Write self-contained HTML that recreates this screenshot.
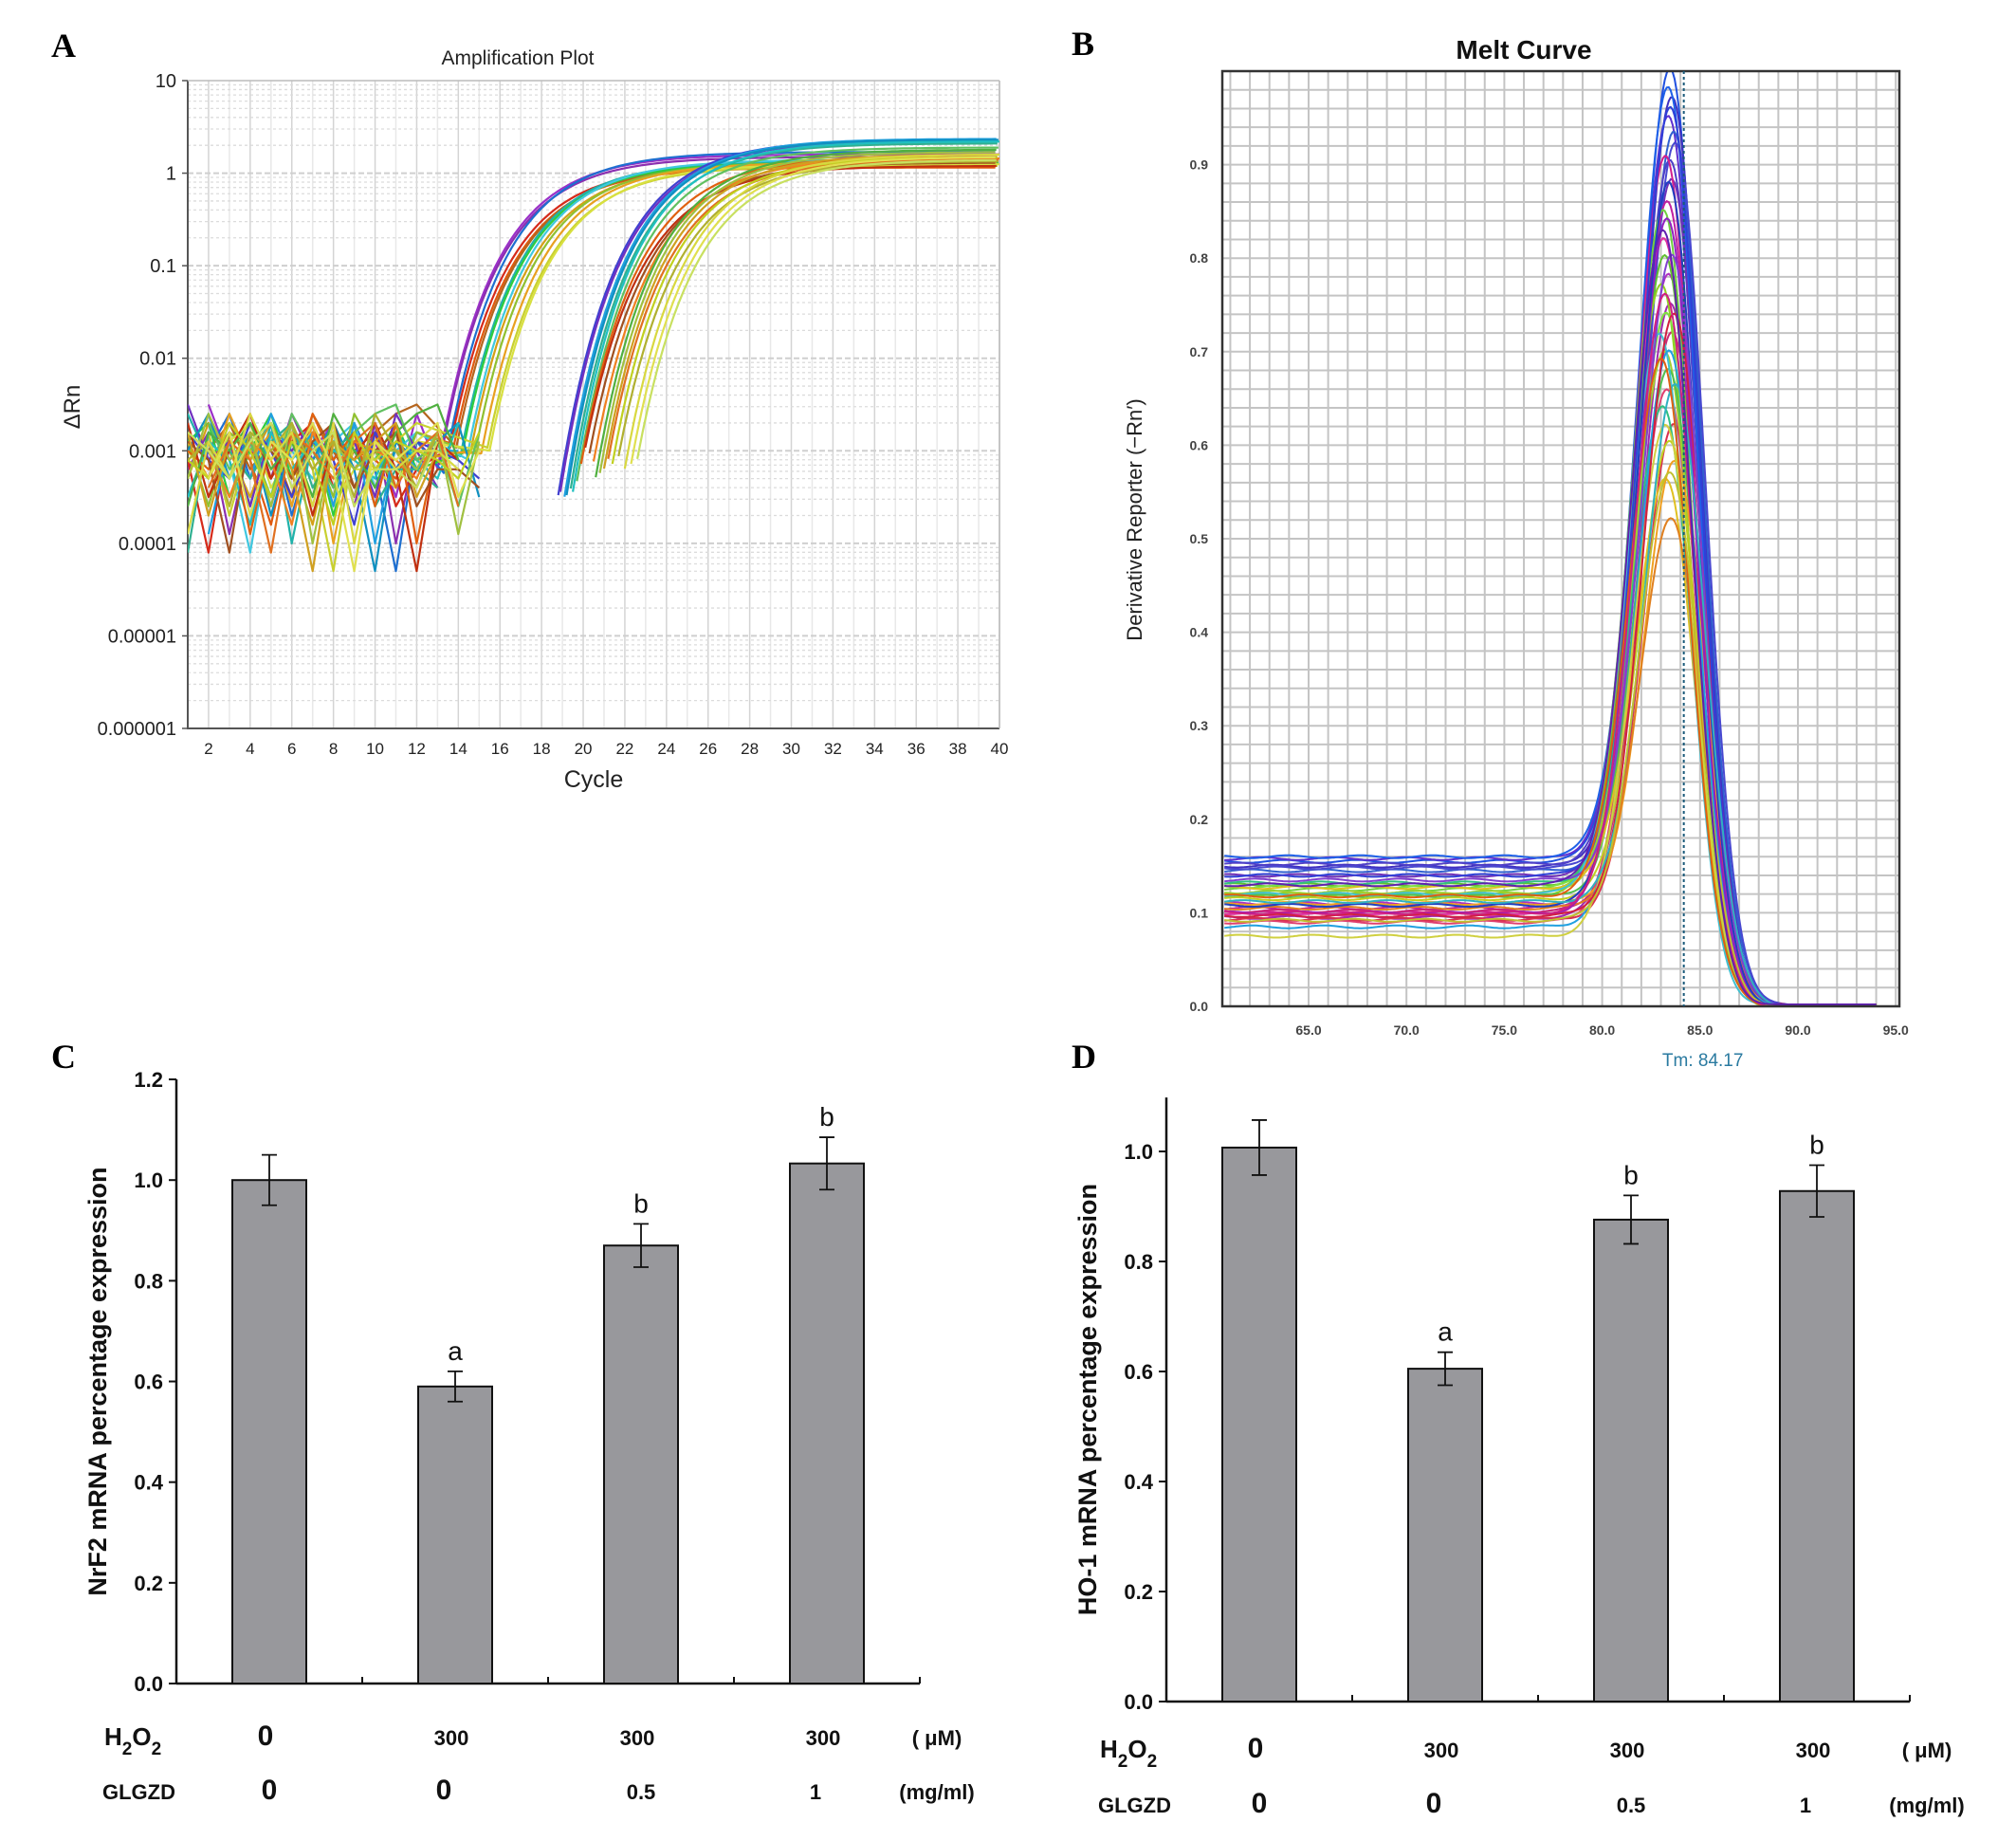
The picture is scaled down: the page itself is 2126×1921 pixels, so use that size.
<!DOCTYPE html>
<html><head><meta charset="utf-8"><style>
html,body{margin:0;padding:0;background:#fff;}
svg{display:block;}
text{font-family:"Liberation Sans",Arial,sans-serif;}
.pl{font-family:"Liberation Serif",serif;font-weight:bold;font-size:36px;}
</style></head><body>
<svg id="fig" width="2126" height="1921" viewBox="0 0 2126 1921" xmlns="http://www.w3.org/2000/svg">
<defs>
<clipPath id="clipA"><rect x="198" y="85" width="856" height="683"/></clipPath>
<clipPath id="clipB"><rect x="1289" y="75" width="714" height="986"/></clipPath>
</defs>
<text class="pl" x="54" y="60">A</text>
<text class="pl" x="1130" y="58">B</text>
<text class="pl" x="54" y="1126">C</text>
<text class="pl" x="1130" y="1126">D</text>
<g id="pa"></g>
<g id="pb"></g>
<g id="pc"></g>
<g id="pd"></g>
</svg>
<script>
// ---------- Panel A data ----------
const ampCt = [15.8,15.9,16.1,16.4,16.6,16.7,16.9,17.0,17.2,17.4,17.6,17.9,18.2,18.3,
  21.6,21.7,21.9,22.0,22.2,22.3,22.5,22.7,22.9,23.1,23.3,23.4,23.6,23.8,24.0,24.2,24.5,24.8,25.1,25.4];
const ampPlateau = [1.6,1.5,1.7,1.2,1.15,1.2,1.35,1.3,1.4,1.25,1.3,1.3,1.2,1.25,
  2.3,2.2,2.35,2.3,2.1,2.2,1.9,1.5,1.2,1.3,1.45,1.8,1.7,1.6,1.4,1.5,1.35,1.6,1.5,1.4];
const ampColor = ["#9b30c8","#8b2fb0","#1e6fd0","#d62a1a","#e05a10","#b5651d","#20b2aa","#2ecc40","#40c8e0","#d4a017","#90c030","#e8a020","#c8d030","#d8e040",
  "#4040d0","#7030c0","#20a0e0","#1090c0","#30b090","#20c0c0","#60c060","#e06010","#c03010","#a05020","#f08020","#50b040","#a0c040","#d0a020","#e07020","#c0d020","#b0b030","#d8d840","#e0e050","#c8e060"];
const noiseSets = [
  [-2.6,-2.5,-3.1,-2.9,-3.6,-2.8,-3.0,-2.7,-3.2,-2.9,-3.5,-2.6,-3.0,-3.4,-2.8],
  [-3.0,-3.2,-2.8,-3.9,-2.9,-3.3,-2.6,-3.1,-2.8,-3.6,-2.7,-4.0,-2.9,-3.2,-3.0],
  [-2.9,-2.7,-3.5,-3.0,-2.6,-3.3,-2.8,-3.7,-2.9,-3.1,-2.7,-3.2,-4.3,-2.9,-3.1],
  [-3.2,-3.4,-2.9,-3.1,-4.1,-2.8,-3.0,-3.3,-2.9,-2.7,-3.4,-3.0,-2.8,-3.6,-3.2],
  [-2.8,-3.1,-3.3,-2.7,-3.0,-3.5,-2.9,-3.1,-3.8,-2.8,-3.2,-2.9,-3.0,-3.1,-3.3]];
const ampYTicks = ["10","1","0.1","0.01","0.001","0.0001","0.00001","0.000001"];
const ampXTicks = [2,4,6,8,10,12,14,16,18,20,22,24,26,28,30,32,34,36,38,40];
// ---------- Panel B data ----------
const meltBase = [0.155,0.15,0.158,0.145,0.152,0.14,0.16,0.148,0.10,0.105,0.098,0.11,0.095,0.102,0.09,0.093,0.125,0.13,0.12,0.128,0.122,0.118,0.132,0.115,0.127,0.11,0.105,0.12,0.085,0.075,0.1,0.108,0.097,0.14,0.135,0.112,0.118,0.1,0.092,0.13];
const meltPeak = [1.0,0.97,0.95,0.93,0.9,0.88,0.98,0.92,0.91,0.86,0.82,0.78,0.75,0.72,0.66,0.62,0.85,0.8,0.77,0.74,0.7,0.68,0.64,0.6,0.56,0.58,0.52,0.72,0.7,0.62,0.84,0.88,0.74,0.96,0.8,0.66,0.69,0.76,0.57,0.83];
const meltTp = [83.6,83.7,83.5,83.8,83.6,83.7,83.5,83.9,83.3,83.4,83.2,83.5,83.6,83.7,83.4,83.8,83.2,83.3,83.1,83.4,83.3,83.5,83.2,83.6,83.4,83.9,83.7,83.0,83.5,83.3,83.4,83.5,83.8,83.6,83.7,83.9,83.1,83.3,83.6,83.2];
const meltColor = ["#2050e0","#4030c0","#6030d0","#3060d0","#5040c8","#7030b8","#1e60e8","#4848d0","#d02090","#c020a0","#e030a0","#b030c0","#a028b0","#c82878","#e04070","#d83050","#70d040","#60c030","#90d020","#80e040","#a0d030","#50c050","#30c080","#c0d020","#e0c020","#f0a020","#e08020","#40c0d0","#20a0e0","#d0d040","#9020c0","#2040c0","#d02040","#3040d8","#8040d0","#30b0c0","#e06010","#d02080","#c0c030","#6020b0"];
const meltYTicks = [0.0,0.1,0.2,0.3,0.4,0.5,0.6,0.7,0.8,0.9];
const meltXTicks = [65,70,75,80,85,90,95];
const meltTm = 84.17;
// ---------- Panel C/D data ----------
const groupH2O2 = ["0","300","300","300"];
const groupGLGZD = ["0","0","0.5","1"];
const nrf2Values = [1.0,0.59,0.87,1.033];
const nrf2Errors = [0.05,0.03,0.043,0.052];
const nrf2Letters = ["","a","b","b"];
const ho1Values = [1.007,0.605,0.876,0.928];
const ho1Errors = [0.05,0.03,0.044,0.047];
const ho1Letters = ["","a","b","b"];
const nrf2YTicks = ["0.0","0.2","0.4","0.6","0.8","1.0","1.2"];
const ho1YTicks = ["0.0","0.2","0.4","0.6","0.8","1.0"];

const NS="http://www.w3.org/2000/svg";
function mk(parent,tag,attrs,txt){const e=document.createElementNS(NS,tag);for(const k in attrs)e.setAttribute(k,attrs[k]);if(txt!==undefined)e.textContent=txt;parent.appendChild(e);return e;}

// ================= Panel A =================
(function(){
const g=document.getElementById('pa');
const L=198,R=1054,T=85,B=768;
const xA=c=>L+(c-1)*(R-L)/39;
const yA=v=>T+(1-Math.log10(v))*(B-T)/7;
for(let c=1;c<=40;c++){const l=mk(g,'line',{x1:xA(c),x2:xA(c),y1:T,y2:B,stroke:c%2===0?'#d4d4d4':'#e8e8e8','stroke-width':1.5});
}
for(let d=-6;d<1;d++){for(let m=1;m<10;m++){const v=m*Math.pow(10,d);const y=yA(v);
 const l=mk(g,'line',{x1:L,x2:R,y1:y,y2:y,stroke:m===1?'#cfcfcf':'#dcdcdc','stroke-width':m===1?2:1.3,'stroke-dasharray':m===1?'6,3':'3,3'});
 }}
const ax=mk(g,'path',{d:`M${L},${T} L${L},${B} L${R},${B}`,fill:'none',stroke:'#555','stroke-width':2});

mk(g,'line',{x1:L,x2:R,y1:T,y2:T,stroke:'#bbb','stroke-width':1.5});
mk(g,'line',{x1:R,x2:R,y1:T,y2:B,stroke:'#bbb','stroke-width':1.5});
ampYTicks.forEach((t,i)=>{const v=Math.pow(10,1-i);const y=yA(v);
 const e=mk(g,'text',{x:L-12,y:y+7,'text-anchor':'end','font-size':20,fill:'#222'},t);
 
 mk(g,'line',{x1:L-6,x2:L,y1:y,y2:y,stroke:'#555','stroke-width':1.5});});
ampXTicks.forEach(c=>{const x=xA(c);
 const e=mk(g,'text',{x:x,y:B+27,'text-anchor':'middle','font-size':17,fill:'#222'},String(c));
 });
let e=mk(g,'text',{x:546,y:68,'text-anchor':'middle','font-size':21,fill:'#222'},'Amplification Plot');

e=mk(g,'text',{x:626,y:830,'text-anchor':'middle','font-size':25,fill:'#222'},'Cycle');

e=mk(g,'text',{x:0,y:0,'text-anchor':'middle','font-size':24,fill:'#222',transform:'translate(84,429) rotate(-90)'},'ΔRn');

const cg=mk(g,'g',{'clip-path':'url(#clipA)'});
const s=2.7;
ampCt.forEach((ct,i)=>{
 const P=ampPlateau[i];const c0=ct+s*Math.log(Math.log(P/0.1));
 const f=c=>P*Math.exp(-Math.exp(-(c-c0)/s));
 const nz=noiseSets[i%5];const rot=i%7;const early=ct<20;
 const nEnd=early?12:(13+(i%3));
 let pts=[];
 for(let c=(i%4===0?2:1);c<=nEnd;c++){const lv=nz[(c-1+rot)%15];pts.push([xA(c),yA(Math.pow(10,lv))]);}
 let d='M'+pts.map(p=>p[0].toFixed(1)+','+p[1].toFixed(1)).join(' L');
 let start=Math.max(12.5,ct-2.8);
 let cp=[];for(let c=start;c<=40.001;c+=0.25){cp.push([xA(c),yA(Math.max(f(c),1e-6))]);}
 d+=(early?' L':' M')+cp.map(p=>p[0].toFixed(1)+','+p[1].toFixed(1)).join(' L');
 const p=mk(cg,'path',{d:d,fill:'none',stroke:ampColor[i],'stroke-width':2.2,'stroke-linejoin':'round'});
 
 
});
})();

// ================= Panel B =================
(function(){
const g=document.getElementById('pb');
const L=1289,R=2003,T=75,B=1061;
const xB=t=>1380+(t-65)*20.64;
const yB=v=>B-v*986;
for(let t=61;t<=95;t++){const x=xB(t);if(x<=L||x>=R)continue;
 const l=mk(g,'line',{x1:x,x2:x,y1:T,y2:B,stroke:'#c4c4c4','stroke-width':2});
 }
for(let k=1;k<50;k++){const y=yB(k*0.02);
 const l=mk(g,'line',{x1:L,x2:R,y1:y,y2:y,stroke:'#c4c4c4','stroke-width':2});
 }
meltYTicks.forEach(v=>{const e=mk(g,'text',{x:L-15,y:yB(v)+5,'text-anchor':'end','font-size':14,'font-weight':'bold',fill:'#444'},v.toFixed(1));
 });
meltXTicks.forEach(t=>{const e=mk(g,'text',{x:xB(t),y:B+30,'text-anchor':'middle','font-size':14,'font-weight':'bold',fill:'#444'},t.toFixed(1));
 });
let e=mk(g,'text',{x:1607,y:62,'text-anchor':'middle','font-size':28,'font-weight':'bold',fill:'#111'},'Melt Curve');

e=mk(g,'text',{x:0,y:0,'text-anchor':'middle','font-size':22,fill:'#222',transform:'translate(1204,548) rotate(-90)'},'Derivative Reporter (−Rn′)');

const cg=mk(g,'g',{'clip-path':'url(#clipB)'});
const tail=t=>1/(1+Math.exp((t-84.2)/0.6));
meltBase.forEach((b,i)=>{
 const h=meltPeak[i],tp=meltTp[i];let pts=[];
 const amp=h-b*tail(tp);
 for(let t=60.7;t<=94;t+=0.1){
  const w=t<tp?2.3:2.1;
  const v=b*tail(t)+amp*Math.exp(-Math.pow((t-tp)/w,2))+0.0015*Math.sin(t*1.7+i);
  pts.push(xB(t).toFixed(1)+','+yB(Math.max(v,0.002)).toFixed(1));}
 const p=mk(cg,'path',{d:'M'+pts.join(' L'),fill:'none',stroke:meltColor[i],'stroke-width':2});
 
 
});
const fr=mk(g,'rect',{x:L,y:T,width:R-L,height:B-T,fill:'none',stroke:'#333','stroke-width':2.5});

const x=xB(meltTm);
e=mk(g,'line',{x1:x,x2:x,y1:T,y2:B,stroke:'#1a5a7a','stroke-width':2,'stroke-dasharray':'3,3'});

e=mk(g,'text',{x:x+20,y:1124,'text-anchor':'middle','font-size':19,fill:'#2a7aa0'},'Tm: '+meltTm.toFixed(2));

})();

// ================= Bar panels =================
function barPanel(id,pre,L,B0,pxPerUnit,topVal,vals,errs,letters,yt,title,rowY1,rowY2,labX,unitX){
 const g=document.getElementById(id);
 const y=v=>B0-v*pxPerUnit;const step=196;const R=L+4*step;
 let e=mk(g,'line',{x1:L,x2:L,y1:y(topVal),y2:B0,stroke:'#111','stroke-width':2.5});
 
 e=mk(g,'line',{x1:L,x2:R,y1:B0,y2:B0,stroke:'#111','stroke-width':2.5});
 
 for(let k=1;k<=4;k++){mk(g,'line',{x1:L+k*step,x2:L+k*step,y1:B0,y2:B0-7,stroke:'#111','stroke-width':2});}
 yt.forEach(t=>{const v=parseFloat(t);mk(g,'line',{x1:L-8,x2:L,y1:y(v),y2:y(v),stroke:'#111','stroke-width':2});
  const tx=mk(g,'text',{x:L-14,y:y(v)+8,'text-anchor':'end','font-size':22,'font-weight':'bold',fill:'#111'},t);
  });
 vals.forEach((v,i)=>{const cx=L+98+i*step;
  const r=mk(g,'rect',{x:cx-39,y:y(v),width:78,height:B0-y(v),fill:'#98989c',stroke:'#111','stroke-width':2});
  
  
  const hi=y(v+errs[i]),lo=y(v-errs[i]);
  const eb=mk(g,'path',{d:`M${cx},${hi} L${cx},${lo} M${cx-8},${hi} L${cx+8},${hi} M${cx-8},${lo} L${cx+8},${lo}`,stroke:'#111','stroke-width':1.8,fill:'none'});
  
  
  if(letters[i]){const lt=mk(g,'text',{x:cx,y:hi-12,'text-anchor':'middle','font-size':28,fill:'#111'},letters[i]);
   
   }
  const h=mk(g,'text',{x:cx-4,y:rowY1,'text-anchor':'middle','font-size':groupH2O2[i]==='0'?30:22,'font-weight':'bold',fill:'#111'},groupH2O2[i]);
  
  
  const gz=mk(g,'text',{x:cx+(i===1?-12:(i===3?-12:0)),y:rowY2,'text-anchor':'middle','font-size':groupGLGZD[i]==='0'?30:22,'font-weight':'bold',fill:'#111'},groupGLGZD[i]);
  
  
 });
 const yc=(y(topVal)+B0)/2;
 e=mk(g,'text',{x:0,y:0,'text-anchor':'middle','font-size':27,'font-weight':'bold',fill:'#111',transform:`translate(${L-74},${yc}) rotate(-90)`},title);
 
 e=mk(g,'text',{x:labX,y:rowY1,'font-size':26,'font-weight':'bold',fill:'#111'});
 
 e.innerHTML='H<tspan dy="10" font-size="19">2</tspan><tspan dy="-10">O</tspan><tspan dy="10" font-size="19">2</tspan>';
 e=mk(g,'text',{x:labX-2,y:rowY2,'font-size':22,'font-weight':'bold',fill:'#111'},'GLGZD');
 
 e=mk(g,'text',{x:unitX,y:rowY1,'text-anchor':'middle','font-size':22,'font-weight':'bold',fill:'#111'},'( μM)');
 
 e=mk(g,'text',{x:unitX,y:rowY2,'text-anchor':'middle','font-size':22,'font-weight':'bold',fill:'#111'},'(mg/ml)');
 
}
barPanel('pc','c',186,1775,530.8,1.2,nrf2Values,nrf2Errors,nrf2Letters,nrf2YTicks,'NrF2 mRNA percentage expression',1840,1897,110,988);
barPanel('pd','d',1230,1794,580,1.098,ho1Values,ho1Errors,ho1Letters,ho1YTicks,'HO-1 mRNA percentage expression',1853,1911,1160,2032);
</script>
</body></html>
